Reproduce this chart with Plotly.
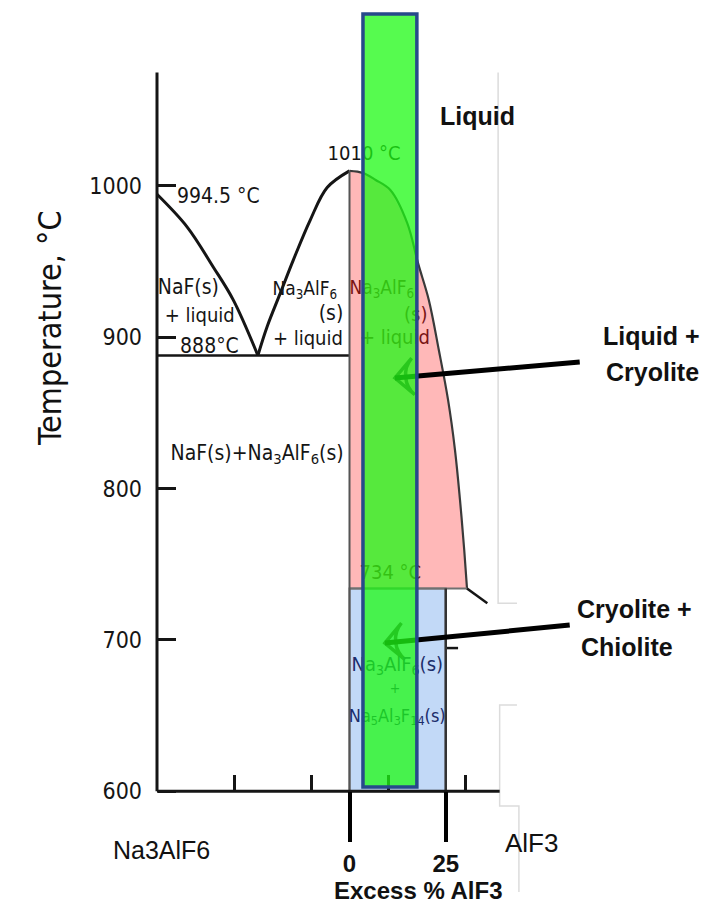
import plotly.graph_objects as go

# ---------------- data (x = mol % AlF3, y = temperature in °C) ----------------
naf_liq_x = [0, 3.9, 7.3, 9.9, 13.1]
naf_liq_t = [994.5, 973, 946.5, 924.7, 888]

cry_left_x = [13.1, 14.3, 16.0, 17.7, 19.9, 22.1, 25]
cry_left_t = [888, 907, 929, 951, 977.5, 999, 1010]

cry_right_x = [25, 26.75, 28.4, 30.3, 32.5, 33.9, 35.3, 36.6, 37.8, 38.7, 39.35, 39.9, 40.26]
cry_right_t = [1010, 1008.6, 1004, 997.4, 975.5, 949, 924.7, 891.6, 858.6, 825.5, 792.5, 759.4, 734]

cryolite_x = 25          # Na3AlF6 composition
chiolite_x = 37.5        # Na5Al3F14 composition
eutectic_t = 888
peritectic_t = 734
t_min = 600
axis_top_t = 1075
axis_end_x = 44.5

tail_x = [40.26, 42.9]
tail_t = [734, 724.2]
stub_x = [37.5, 39.1]
stub_t = [694.6, 694.6]

y_ticks = [600, 700, 800, 900, 1000]
x_minor_ticks = [10, 20, 30, 40]
excess_ticks_x = [25, 37.5]
excess_tick_text = ["0", "25"]

band_x = [26.75, 33.75]       # highlighted operating window
band_t = [602.8, 1113.7]

arrow1_x = [54.9, 30.9]
arrow1_t = [883.7, 873.1]
arrow2_x = [53.6, 29.6]
arrow2_t = [709.8, 697.9]

# faint page-edge lines of the scanned figure
edge_lines = [
    ([44.3, 44.3, 46.75], [1075, 724.2, 724.2]),
    ([46.75, 44.5, 44.5, 47.0, 47.0], [657, 657, 590.2, 590.2, 533.4]),
]

X_RANGE = [-20.39, 70.78]
Y_RANGE = [524.12, 1122.93]

DIN = "DejaVu Sans Condensed, DejaVu Sans, sans-serif"
SANS = "Liberation Sans, Arial, sans-serif"
INK = "#151515"
RED_TXT = "#7a1414"
BLUE_TXT = "#1b2d6b"

fig = go.Figure()

# faint page edges
for ex, et in edge_lines:
    fig.add_trace(go.Scatter(x=ex, y=et, mode="lines", line=dict(color="#dcdcdc", width=1.5),
                             hoverinfo="skip", showlegend=False))

# pink region (cryolite + liquid)
fig.add_trace(go.Scatter(
    x=[cryolite_x] + cry_right_x + [cryolite_x],
    y=[peritectic_t] + cry_right_t + [peritectic_t],
    fill="toself", fillcolor="#ffb8b8", mode="lines",
    line=dict(color="rgba(0,0,0,0)", width=0), hoverinfo="skip", showlegend=False))

# blue region (cryolite + chiolite)
fig.add_trace(go.Scatter(
    x=[cryolite_x, chiolite_x, chiolite_x, cryolite_x, cryolite_x],
    y=[t_min, t_min, peritectic_t, peritectic_t, t_min],
    fill="toself", fillcolor="#c2d9f7", mode="lines",
    line=dict(color="#7a7a7a", width=2), hoverinfo="skip", showlegend=False))

# right liquidus boundary
fig.add_trace(go.Scatter(x=cry_right_x, y=cry_right_t, mode="lines", line_shape="spline",
                         line=dict(color="#3a3a3a", width=2.2), hoverinfo="skip", showlegend=False))
# 734 line
fig.add_trace(go.Scatter(x=[cryolite_x, cry_right_x[-1]], y=[peritectic_t, peritectic_t], mode="lines",
                         line=dict(color="#707070", width=2), hoverinfo="skip", showlegend=False))
fig.add_trace(go.Scatter(x=tail_x, y=tail_t, mode="lines", line=dict(color=INK, width=2.5),
                         hoverinfo="skip", showlegend=False))
fig.add_trace(go.Scatter(x=stub_x, y=stub_t, mode="lines", line=dict(color=INK, width=2.5),
                         hoverinfo="skip", showlegend=False))

# left liquidus curves
fig.add_trace(go.Scatter(x=naf_liq_x, y=naf_liq_t, mode="lines", line_shape="spline",
                         line=dict(color=INK, width=3), hoverinfo="skip", showlegend=False))
fig.add_trace(go.Scatter(x=cry_left_x, y=cry_left_t, mode="lines", line_shape="spline",
                         line=dict(color=INK, width=3), hoverinfo="skip", showlegend=False))
# eutectic line
fig.add_trace(go.Scatter(x=[0, cryolite_x], y=[eutectic_t, eutectic_t], mode="lines",
                         line=dict(color=INK, width=2.5), hoverinfo="skip", showlegend=False))
# cryolite composition line
fig.add_trace(go.Scatter(x=[cryolite_x, cryolite_x], y=[t_min, 1010], mode="lines",
                         line=dict(color="#555555", width=2), hoverinfo="skip", showlegend=False))
# chiolite line
fig.add_trace(go.Scatter(x=[chiolite_x, chiolite_x], y=[t_min, peritectic_t], mode="lines",
                         line=dict(color="#333333", width=2.5), hoverinfo="skip", showlegend=False))

# axes lines of the diagram
fig.add_trace(go.Scatter(x=[0, 0], y=[t_min, axis_top_t], mode="lines",
                         line=dict(color=INK, width=3), hoverinfo="skip", showlegend=False))
fig.add_trace(go.Scatter(x=[0, axis_end_x], y=[t_min, t_min], mode="lines",
                         line=dict(color=INK, width=3), hoverinfo="skip", showlegend=False))

# arrows
for ax_, at_ in [(arrow1_x, arrow1_t), (arrow2_x, arrow2_t)]:
    fig.add_trace(go.Scatter(x=ax_, y=at_, mode="lines+markers",
                             line=dict(color="#000000", width=5),
                             marker=dict(symbol=["circle", "arrow-wide-open"], size=[0, 26],
                                         angleref="previous", color="#000000",
                                         line=dict(color="#000000", width=3.5)),
                             hoverinfo="skip", showlegend=False))

# diagram labels (text that lies under the transparent band is drawn as traces)
def label(x, y, text, size=21, color=INK, pos="middle center", family=DIN):
    fig.add_trace(go.Scatter(x=[x], y=[y], mode="text", text=[text], textposition=pos,
                             textfont=dict(family=family, size=size, color=color),
                             hoverinfo="skip", showlegend=False))

label(2.6, 992.1, "994.5 °C", pos="middle right")
label(3.0, 892.9, "888°C", pos="middle right")
label(0.1, 931.9, "NaF(s)", pos="middle right")
label(1.0, 913.4, "+ liquid", size=20, pos="middle right")
label(19.2, 931.3, "Na<sub>3</sub>AlF<sub>6</sub>", size=19)
label(22.6, 914.7, "(s)")
label(19.6, 898.2, "+ liquid", size=20)
label(13.0, 822.5, "NaF(s)+Na<sub>3</sub>AlF<sub>6</sub>(s)")
label(26.9, 1020.5, "1010 °C", size=20)
label(29.2, 931.5, "Na<sub>3</sub>AlF<sub>6</sub>", size=19, color=RED_TXT)
label(33.6, 914.0, "(s)", size=20, color=RED_TXT)
label(30.9, 899.0, "+ liquid", size=20, color=RED_TXT)
label(30.3, 743.6, "734 °C", size=20, color=RED_TXT)
label(31.2, 683.0, "Na<sub>3</sub>AlF<sub>6</sub>(s)", size=20, color=BLUE_TXT)
label(30.9, 667.5, "+", size=14, color=BLUE_TXT)
label(31.2, 649.0, "Na<sub>5</sub>Al<sub>3</sub>F<sub>14</sub>(s)", size=18, color=BLUE_TXT)

# invisible trace for the secondary x axis
fig.add_trace(go.Scatter(x=excess_ticks_x, y=[t_min, t_min], xaxis="x2", mode="markers",
                         marker=dict(opacity=0), hoverinfo="skip", showlegend=False))

# transparent highlighted band
fig.add_shape(type="rect", xref="x", yref="y", x0=band_x[0], x1=band_x[1], y0=band_t[0], y1=band_t[1],
              fillcolor="rgba(30,250,20,0.75)", line=dict(color="#27498a", width=3.5), layer="above")

# annotations (plain text outside the band)
def note(x, y, text, size=25, family=SANS, color="#111111", xanchor="center", angle=0):
    fig.add_annotation(x=x, y=y, xref="x", yref="y", text=text, showarrow=False,
                       font=dict(family=family, size=size, color=color), xanchor=xanchor,
                       yanchor="middle", textangle=angle)

note(41.56, 1046.3, "<b>Liquid</b>")
note(64.2, 900.9, "<b>Liquid +</b>")
note(64.3, 877.1, "<b>Cryolite</b>")
note(61.95, 720.4, "<b>Cryolite +</b>")
note(61.0, 695.3, "<b>Chiolite</b>")
note(0.52, 561.1, "Na3AlF6", size=25)
note(48.7, 565.8, "AlF3", size=26)
note(34.0, 534.5, "<b>Excess % AlF3</b>", size=24)
note(-13.9, 906.1, "Temperature, °C", size=32, family=DIN, angle=-90)

fig.update_layout(
    width=702, height=906,
    margin=dict(l=0, r=0, t=0, b=0),
    paper_bgcolor="white", plot_bgcolor="white",
    showlegend=False,
    xaxis=dict(range=X_RANGE, domain=[0, 1], anchor="free", position=115 / 906,
               showgrid=False, zeroline=False, showline=False, showticklabels=False,
               tickmode="array", tickvals=x_minor_ticks, ticks="inside", ticklen=16,
               tickwidth=2.5, tickcolor=INK, fixedrange=True),
    xaxis2=dict(range=X_RANGE, domain=[0, 1], anchor="free", position=115 / 906, overlaying="x",
                showgrid=False, zeroline=False, showline=False,
                tickmode="array", tickvals=excess_ticks_x, ticktext=excess_tick_text,
                ticks="outside", ticklen=50, tickwidth=4, tickcolor="#000000",
                tickfont=dict(family=SANS, size=24, color="#111111", weight="bold"),
                ticklabelstandoff=1, fixedrange=True),
    yaxis=dict(range=Y_RANGE, domain=[0, 1], anchor="free", position=157 / 702, side="left",
               showgrid=False, zeroline=False, showline=False,
               tickmode="array", tickvals=y_ticks, ticks="inside", ticklen=18, tickwidth=3,
               tickcolor=INK, ticklabelstandoff=15,
               tickfont=dict(family=DIN, size=23, color=INK), fixedrange=True),
)

fig.write_html("out.html", config={"displayModeBar": False},
               post_script="document.body.style.margin='0';")
